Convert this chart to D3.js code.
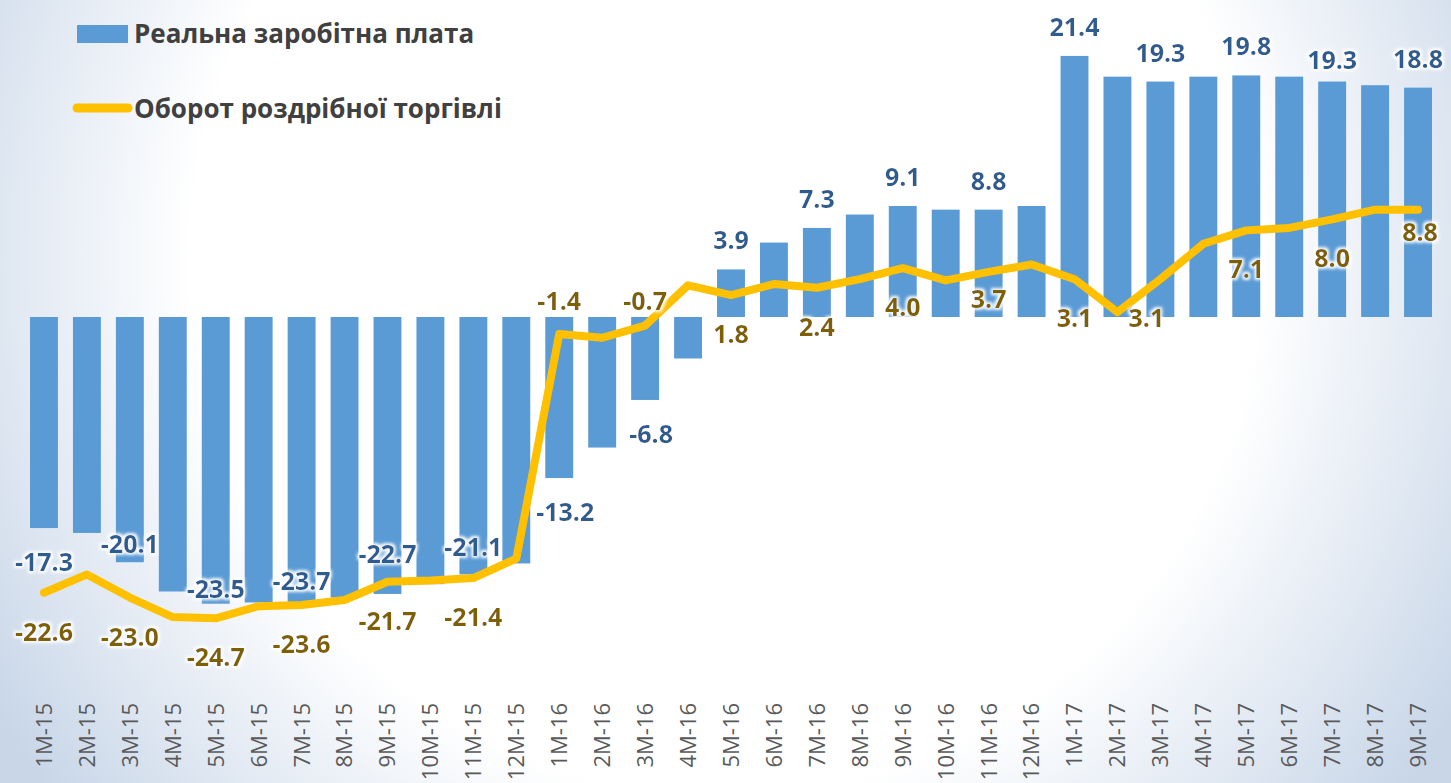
<!DOCTYPE html>
<html lang="uk">
  <head>
    <meta charset="UTF-8" />
    <title>Реальна заробітна плата та оборот роздрібної торгівлі</title>
    <style>
      body {
        margin: 0;
        overflow: hidden;
      }
      .bar {
        fill: #5b9bd5;
      }
      .line {
        fill: none;
        stroke: #ffc000;
        stroke-width: 8px;
        stroke-linejoin: round;
        stroke-linecap: round;
      }
      .cat {
        font-family: "Open Sans", sans-serif;
        font-size: 22px;
        fill: #595959;
      }
      .lbl {
        font-family: "Open Sans", sans-serif;
        font-weight: 700;
        font-size: 25px;
      }
      .legend text {
        font-family: "Open Sans", sans-serif;
        font-weight: 700;
        font-size: 26px;
        fill: #404040;
      }
    </style>
  </head>
  <body>
    <div id="chart"></div>
    <script src="https://cdn.jsdelivr.net/npm/d3@7"></script>
    <script>
      // categories: month number + year
      const months = [
        "1M-15", "2M-15", "3M-15", "4M-15", "5M-15", "6M-15", "7M-15", "8M-15",
        "9M-15", "10M-15", "11M-15", "12M-15", "1M-16", "2M-16", "3M-16", "4M-16",
        "5M-16", "6M-16", "7M-16", "8M-16", "9M-16", "10M-16", "11M-16", "12M-16",
        "1M-17", "2M-17", "3M-17", "4M-17", "5M-17", "6M-17", "7M-17", "8M-17", "9M-17"
      ];

      // real wages, % y/y
      const wages = [
        -17.3, -17.7, -20.1, -22.5, -23.5, -23.4, -23.7, -23.0, -22.7, -21.9, -21.1,
        -20.2, -13.2, -10.7, -6.8, -3.4, 3.9, 6.1, 7.3, 8.4, 9.1, 8.8, 8.8, 9.1,
        21.4, 19.7, 19.3, 19.7, 19.8, 19.7, 19.3, 19.0, 18.8
      ];

      // retail trade turnover, % y/y
      const retail = [
        -22.6, -21.1, -23.0, -24.6, -24.7, -23.7, -23.6, -23.2, -21.7, -21.6, -21.4,
        -19.8, -1.4, -1.7, -0.7, 2.6, 1.8, 2.7, 2.4, 3.1, 4.0, 3.0, 3.7, 4.3,
        3.1, 0.4, 3.1, 6.0, 7.1, 7.3, 8.0, 8.8, 8.8
      ];

      const seriesNames = ["Реальна заробітна плата", "Оборот роздрібної торгівлі"];

      const width = 1451,
        height = 783;

      const svg = d3
        .select("#chart")
        .append("svg")
        .attr("width", width)
        .attr("height", height);

      // soft bluish background
      const defs = svg.append("defs");
      const bg = defs
        .append("radialGradient")
        .attr("id", "bg")
        .attr("gradientUnits", "userSpaceOnUse")
        .attr("cx", 725)
        .attr("cy", 260)
        .attr("r", 860);
      bg.append("stop").attr("offset", "0%").attr("stop-color", "#ffffff");
      bg.append("stop").attr("offset", "62%").attr("stop-color", "#ffffff");
      bg.append("stop").attr("offset", "100%").attr("stop-color", "#c8d6e8");

      const glow = defs.append("filter").attr("id", "glow")
        .attr("x", "-20%").attr("y", "-30%").attr("width", "140%").attr("height", "160%");
      glow.append("feMorphology").attr("in", "SourceAlpha").attr("operator", "dilate")
        .attr("radius", 2).attr("result", "d");
      glow.append("feGaussianBlur").attr("in", "d").attr("stdDeviation", 1.6).attr("result", "b");
      glow.append("feFlood").attr("flood-color", "#ffffff").attr("flood-opacity", 0.95);
      glow.append("feComposite").attr("in2", "b").attr("operator", "in").attr("result", "g");
      const gm = glow.append("feMerge");
      gm.append("feMergeNode").attr("in", "g");
      gm.append("feMergeNode").attr("in", "SourceGraphic");

      svg.append("rect").attr("width", width).attr("height", height).attr("fill", "url(#bg)");

      const x = d3.scaleBand().domain(months).range([22.5, 1439.5]).paddingInner(0.35).paddingOuter(0.175);
      const y = d3.scaleLinear().domain([-30, 25]).range([683, 12]);
      const cx = (d) => x(d) + x.bandwidth() / 2;
      const fmt = d3.formatLocale({ decimal: ".", thousands: "", grouping: [3], currency: ["", ""], minus: "-" }).format(".1f");

      // bars
      svg
        .selectAll(".bar")
        .data(months)
        .join("rect")
        .attr("class", "bar")
        .attr("x", (d) => x(d))
        .attr("width", x.bandwidth())
        .attr("y", (d, i) => y(Math.max(0, wages[i])))
        .attr("height", (d, i) => Math.abs(y(wages[i]) - y(0)));

      // line
      const line = d3
        .line()
        .x((d) => cx(d))
        .y((d, i) => y(retail[i]));
      svg.append("path").datum(months).attr("class", "line").attr("d", line);

      // category axis, rotated labels
      const axis = d3.axisBottom(x).tickSize(0);
      const gx = svg.append("g").attr("transform", "translate(0,703)").call(axis);
      gx.select(".domain").remove();
      gx.selectAll(".tick").attr("transform", (d) => `translate(${cx(d)},0)`);
      gx.selectAll("text")
        .attr("class", "cat")
        .attr("transform", "rotate(-90)")
        .attr("x", 0)
        .attr("y", 0)
        .attr("dy", "0.36em")
        .attr("text-anchor", "end")
        .attr("fill", null);
      gx.attr("font-size", null).attr("font-family", null);

      // data labels, every other point
      const shown = months.map((d, i) => i).filter((i) => i % 2 === 0);
      // hand nudges of label placement, as in the original slide
      const barShift = { 2: -19, 4: -16, 6: -26, 8: -41, 10: -28, 30: -23 };
      const lineShift = { 12: -34, 14: -26, 22: 26, 32: 21 };
      const lineDx = { 26: -14, 32: 2 };

      const labels = svg.append("g").attr("filter", "url(#glow)");

      labels
        .selectAll(".wl")
        .data(shown)
        .join("text")
        .attr("class", "lbl wl")
        .attr("fill", "#2f5c8f")
        .attr("text-anchor", "middle")
        .attr("dominant-baseline", "central")
        .attr("x", (i) => cx(months[i]) + (i === 12 || i === 14 ? 6 : 0))
        .attr("y", (i) => {
          const v = wages[i];
          if (barShift[i] !== undefined) return y(v) + barShift[i];
          return v >= 0 ? y(v) - 30 : y(v) + 33;
        })
        .text((i) => fmt(wages[i]));

      labels
        .selectAll(".rl")
        .data(shown)
        .join("text")
        .attr("class", "lbl rl")
        .attr("fill", "#7f6000")
        .attr("text-anchor", "middle")
        .attr("dominant-baseline", "central")
        .attr("x", (i) => cx(months[i]) + (lineDx[i] || 0))
        .attr("y", (i) => y(retail[i]) + (lineShift[i] !== undefined ? lineShift[i] : 38))
        .text((i) => fmt(retail[i]));

      // legend
      const legend = svg.append("g").attr("class", "legend");
      legend.append("rect").attr("x", 77).attr("y", 25).attr("width", 51).attr("height", 18).attr("fill", "#5b9bd5");
      legend.append("text").attr("x", 134).attr("y", 43).text(seriesNames[0]);
      legend
        .append("line")
        .attr("x1", 77)
        .attr("x2", 128)
        .attr("y1", 108)
        .attr("y2", 108)
        .attr("stroke", "#ffc000")
        .attr("stroke-width", 9)
        .attr("stroke-linecap", "round");
      legend.append("text").attr("x", 134).attr("y", 118).text(seriesNames[1]);
    </script>
  </body>
</html>
